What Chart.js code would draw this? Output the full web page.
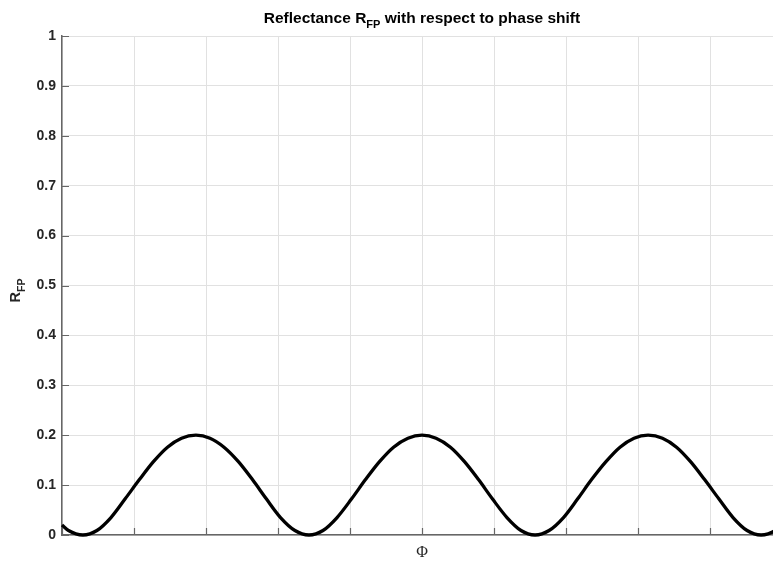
<!DOCTYPE html>
<html>
<head>
<meta charset="utf-8">
<script src="https://cdn.jsdelivr.net/npm/chart.js@4/dist/chart.umd.min.js"></script>
<style>
  html, body { margin: 0; padding: 0; background: #ffffff; overflow: hidden; }
  #wrap { width: 790px; height: 562px; }
</style>
</head>
<body>
<div id="wrap"><canvas id="plot" width="790" height="562"></canvas></div>
<script>
// Phase shift (rad) and Fabry-Perot reflectance
const phi = [0, 0.18, 0.58, 0.97, 1.36, 1.75, 2.15, 2.54, 2.93, 3.32, 3.72, 4.11, 4.50, 4.90, 5.29, 5.68,
  6.07, 6.47, 6.86, 7.25, 7.64, 8.04, 8.43, 8.82, 9.21, 9.61, 10.00, 10.39, 10.79, 11.18, 11.57, 11.96,
  12.36, 12.75, 13.14, 13.53, 13.93, 14.32, 14.71, 15.11, 15.50, 15.89, 16.28, 16.68, 17.07, 17.46, 17.85,
  18.25, 18.64, 19.03, 19.42, 19.82, 20];
const rfp = [0.020, 0.009,
  0, 0.009, 0.035, 0.072, 0.111, 0.147, 0.176, 0.194, 0.200, 0.194, 0.176, 0.147, 0.111, 0.072, 0.035, 0.009,
  0, 0.009, 0.035, 0.072, 0.111, 0.147, 0.176, 0.194, 0.200, 0.194, 0.176, 0.147, 0.111, 0.072, 0.035, 0.009,
  0, 0.009, 0.035, 0.072, 0.111, 0.147, 0.176, 0.194, 0.200, 0.194, 0.176, 0.147, 0.111, 0.072, 0.035, 0.009,
  0, 0.009, 0.020];

const yTickLabels = ['0', '0.1', '0.2', '0.3', '0.4', '0.5', '0.6', '0.7', '0.8', '0.9', '1'];
const titleMain = 'Reflectance R';
const titleSub = 'FP';
const titleRest = ' with respect to phase shift';
const yLabelMain = 'R';
const yLabelSub = 'FP';
const xLabel = '\u03A6';

const SANS = '"Liberation Sans", Arial, Helvetica, sans-serif';
const SERIF = '"Liberation Serif", "DejaVu Serif", serif';
const AXIS_COLOR = '#262626';
const LINE_GRAY = '#666666';
const GRID_GRAY = '#e1e1e1';

// Short inward tick marks on the left and bottom axes
const innerTicks = {
  id: 'innerTicks',
  beforeDatasetsDraw(chart) {
    const { ctx, chartArea: a, scales: { x, y } } = chart;
    ctx.save();
    ctx.strokeStyle = LINE_GRAY;
    ctx.lineWidth = 1.2;
    ctx.beginPath();
    y.ticks.forEach(t => {
      const py = Math.round(y.getPixelForValue(t.value)) + 0.5;
      ctx.moveTo(a.left, py);
      ctx.lineTo(a.left + 7, py);
    });
    x.ticks.forEach(t => {
      const px = Math.round(x.getPixelForValue(t.value)) + 0.5;
      ctx.moveTo(px, a.bottom);
      ctx.lineTo(px, a.bottom - 7);
    });
    ctx.stroke();
    ctx.restore();
  }
};

// Title and y label with subscripts
function drawSubText(ctx, x, y, main, sub, rest, size, subSize, align) {
  ctx.font = 'bold ' + size + 'px ' + SANS;
  const wMain = ctx.measureText(main).width;
  const wRest = rest ? ctx.measureText(rest).width : 0;
  ctx.font = 'bold ' + subSize + 'px ' + SANS;
  const wSub = ctx.measureText(sub).width;
  const total = wMain + wSub + wRest;
  let cx = align === 'center' ? x - total / 2 : x;
  ctx.textAlign = 'left';
  ctx.textBaseline = 'alphabetic';
  ctx.font = 'bold ' + size + 'px ' + SANS;
  ctx.fillText(main, cx, y);
  cx += wMain;
  ctx.font = 'bold ' + subSize + 'px ' + SANS;
  ctx.fillText(sub, cx, y + Math.round(size * 0.35));
  cx += wSub;
  if (rest) {
    ctx.font = 'bold ' + size + 'px ' + SANS;
    ctx.fillText(rest, cx, y);
  }
}

const labels = {
  id: 'labels',
  afterDraw(chart) {
    const { ctx, chartArea: a } = chart;
    ctx.save();
    ctx.fillStyle = '#000000';
    drawSubText(ctx, (a.left + a.right) / 2, 23, titleMain, titleSub, titleRest, 15.5, 11, 'center');
    ctx.fillStyle = AXIS_COLOR;
    ctx.translate(20, (a.top + a.bottom) / 2 + 5);
    ctx.rotate(-Math.PI / 2);
    drawSubText(ctx, 0, 0, yLabelMain, yLabelSub, '', 14.5, 10.5, 'center');
    ctx.restore();
  }
};

new Chart(document.getElementById('plot'), {
  type: 'line',
  data: {
    datasets: [{
      data: phi.map((p, i) => ({ x: p, y: rfp[i] })),
      borderColor: '#000000',
      borderWidth: 3.3,
      pointRadius: 0,
      cubicInterpolationMode: 'monotone',
      fill: false,
      clip: false
    }]
  },
  options: {
    responsive: false,
    animation: false,
    layout: { padding: { top: 36, right: 8, left: 0, bottom: 0 } },
    plugins: { legend: { display: false }, tooltip: { enabled: false }, title: { display: false } },
    scales: {
      x: {
        type: 'linear',
        min: 0,
        max: 20,
        ticks: { stepSize: 2, display: false },
        grid: { color: GRID_GRAY, lineWidth: 1, drawTicks: false },
        border: { display: true, color: LINE_GRAY, width: 1.5 },
        title: {
          display: true,
          text: xLabel,
          color: AXIS_COLOR,
          font: { family: SERIF, size: 16 },
          padding: { top: 0, bottom: 0 }
        },
        afterFit(scale) { scale.height = 27; }
      },
      y: {
        min: 0,
        max: 1,
        ticks: {
          stepSize: 0.1,
          padding: 6,
          color: AXIS_COLOR,
          font: { family: SANS, size: 14, weight: 'bold' },
          callback: (v, i) => yTickLabels[i]
        },
        grid: { color: GRID_GRAY, lineWidth: 1, drawTicks: false },
        border: { display: true, color: LINE_GRAY, width: 1.5 },
        afterFit(scale) { scale.width = 62; }
      }
    }
  },
  plugins: [innerTicks, labels]
});
</script>
</body>
</html>
